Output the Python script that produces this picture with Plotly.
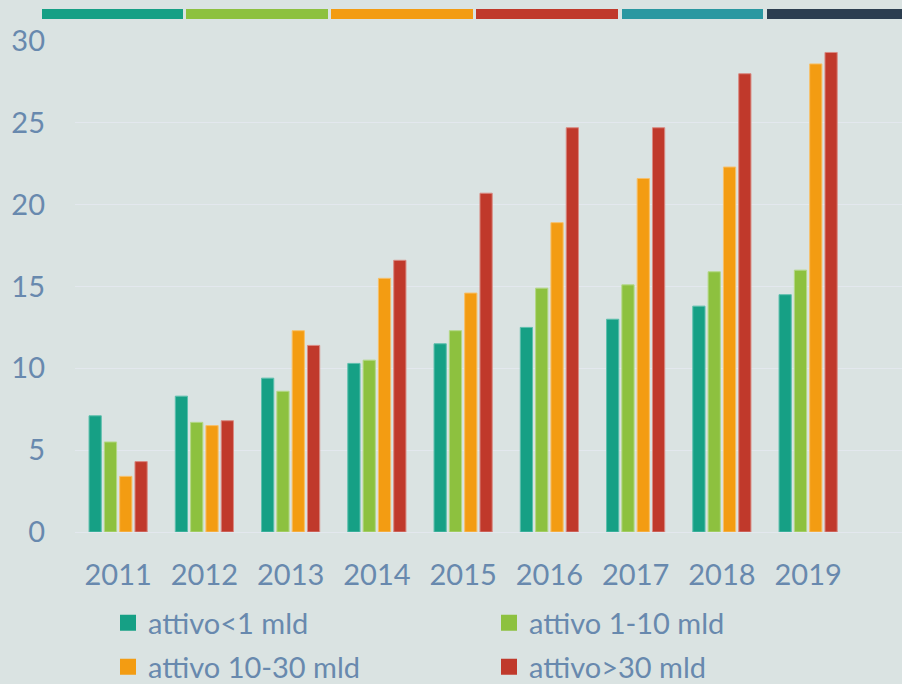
import plotly.graph_objects as go

years = ["2011", "2012", "2013", "2014", "2015", "2016", "2017", "2018", "2019"]
s_small = [7.1, 8.3, 9.4, 10.3, 11.5, 12.5, 13.0, 13.8, 14.5]
s_mid = [5.5, 6.7, 8.6, 10.5, 12.3, 14.9, 15.1, 15.9, 16.0]
s_large = [3.4, 6.5, 12.3, 15.5, 14.6, 18.9, 21.6, 22.3, 28.6]
s_xlarge = [4.3, 6.8, 11.4, 16.6, 20.7, 24.7, 24.7, 28.0, 29.3]
series_names = ["attivo<1 mld", "attivo 1-10 mld", "attivo 10-30 mld", "attivo>30 mld"]
y_ticks = [0, 5, 10, 15, 20, 25, 30]

colors = ["#16A085", "#8DC13F", "#F39C12", "#C0392B"]
strip_colors = ["#16A085", "#8DC13F", "#F39C12", "#C0392B", "#2A98A1", "#2C3E50"]
edge_colors = ["#5DBFAD", "#B4D887", "#F7C06A", "#D98A82"]
BG = "#DAE3E2"
TXT = "#6889AE"
FONT = "Lato"
FS = 29

fig = go.Figure()
series = [s_small, s_mid, s_large, s_xlarge]
legend_ids = ["legend", "legend", "legend2", "legend2"]
for name, vals, c, ec in zip(series_names, series, colors, edge_colors):
    fig.add_trace(go.Bar(
        x=years, y=vals, name=name, showlegend=False,
        marker=dict(color=c, line=dict(color=ec, width=1)),
    ))
# legend entries (square swatches)
for name, c, lg in zip(series_names, colors, legend_ids):
    fig.add_trace(go.Scatter(
        x=[None], y=[None], name=name, mode="markers",
        marker=dict(symbol="square", size=18, color=c),
        legend=lg, showlegend=True,
    ))

# decorative colour strips at the top
W, H = 902, 684
L, R, T, B = 75, 0, 41, 152
pw, ph = W - L - R, H - T - B
x_edges = [(42, 183), (186, 328), (331, 473), (476, 618), (622, 763), (767, 902)]
for (x0, x1), c in zip(x_edges, strip_colors):
    fig.add_shape(type="rect", xref="paper", yref="paper",
                  x0=(x0 - L) / pw, x1=(x1 - L) / pw,
                  y0=(H - B - 19) / ph, y1=(H - B - 9) / ph,
                  fillcolor=c, line=dict(width=0), layer="above")

legend_common = dict(
    orientation="h", xref="paper", yref="paper",
    x=(108 - L) / pw, xanchor="left", yanchor="middle",
    entrywidth=336, entrywidthmode="pixels",
    font=dict(family=FONT, size=FS, color=TXT),
    bgcolor="rgba(0,0,0,0)", borderwidth=0,
)

fig.update_layout(
    width=W, height=H,
    margin=dict(l=L, r=R, t=T, b=B, pad=0, autoexpand=False),
    paper_bgcolor=BG, plot_bgcolor=BG,
    font=dict(family=FONT, size=FS, color=TXT),
    barmode="group", bargap=0.29, bargroupgap=0.2,
    showlegend=True,
    legend=dict(**legend_common, y=(H - B - 623) / ph),
    legend2=dict(**legend_common, y=(H - B - 667) / ph),
    xaxis=dict(
        type="category", range=[-0.5, pw / 86.25 - 0.5],
        showgrid=False, showline=False, zeroline=False,
        ticks="", ticklabelstandoff=23,
        tickfont=dict(family=FONT, size=FS, color=TXT),
    ),
    yaxis=dict(
        range=[0, 30], tickvals=y_ticks,
        showgrid=True, gridcolor="#E3E8EE", gridwidth=1,
        zeroline=True, zerolinecolor="#E3E8EE", zerolinewidth=1,
        showline=False, ticks="", ticklabelstandoff=29,
        tickfont=dict(family=FONT, size=FS, color=TXT),
    ),
)

fig.write_html(
    "out.html",
    config={"displayModeBar": False},
    post_script="document.body.style.margin='0';document.body.style.overflow='hidden';",
)
